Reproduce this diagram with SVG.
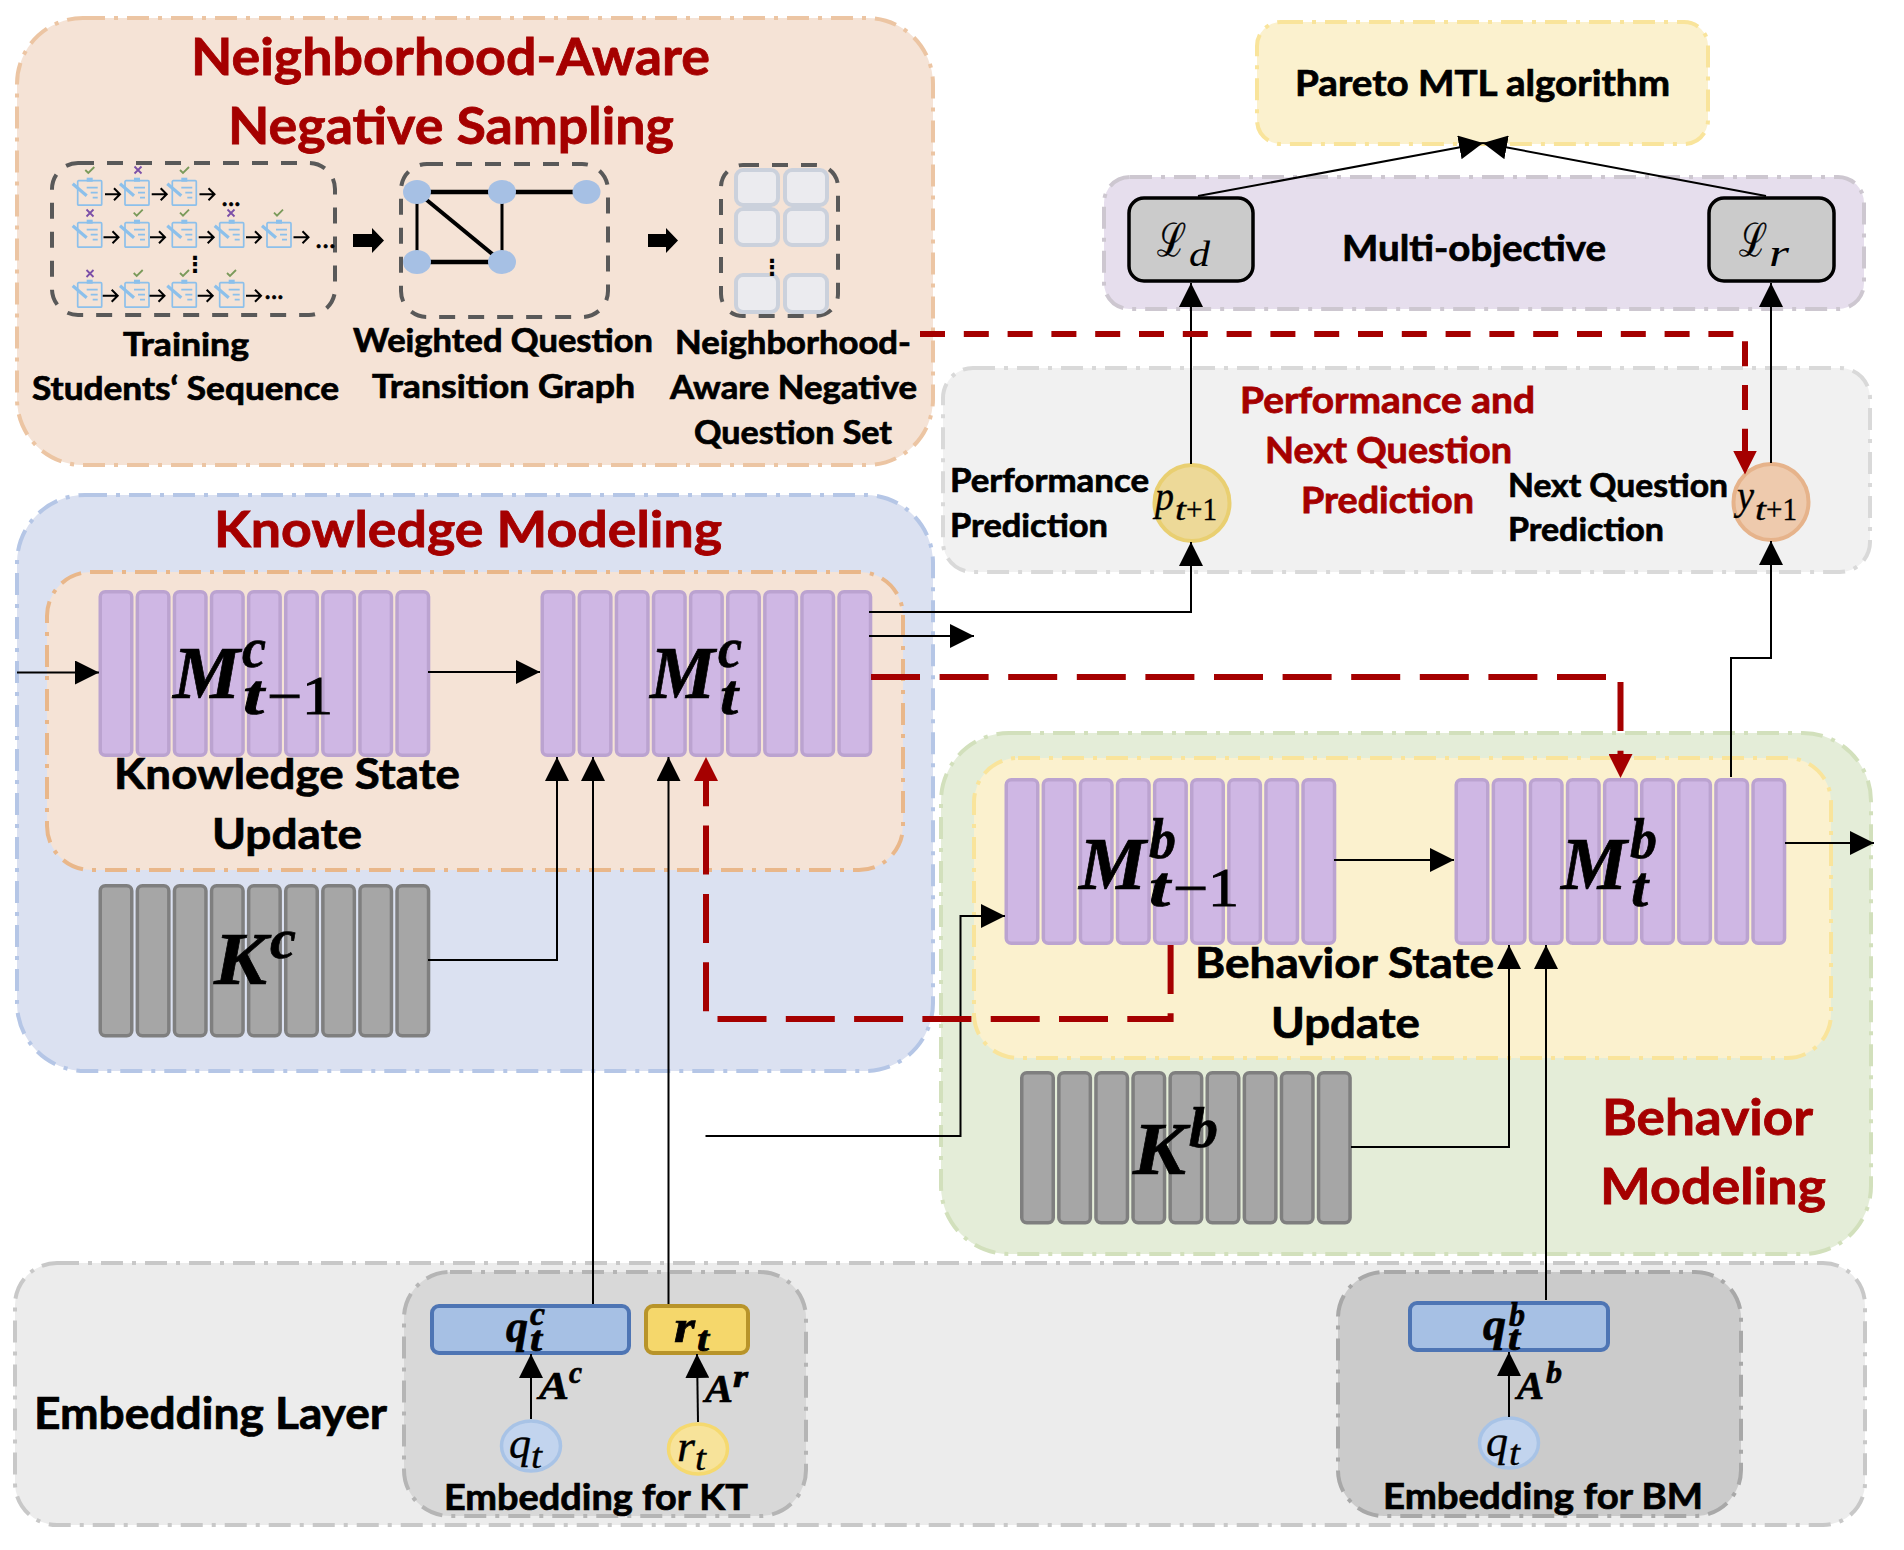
<svg xmlns="http://www.w3.org/2000/svg" xmlns:xlink="http://www.w3.org/1999/xlink" width="1904" height="1550" viewBox="0 0 1904 1550">
<style>
.t{font-family:Lato,"Liberation Sans",sans-serif;font-weight:700;fill:#000;stroke:#000;stroke-width:.7}
.h{font-family:Lato,"Liberation Sans",sans-serif;font-weight:700;fill:#A50000;stroke:#A50000;stroke-width:.8}
.mb{font-family:"Liberation Serif",serif;font-style:italic;font-weight:700;fill:#000;stroke:#000;stroke-width:.7}
.mi{font-family:"Liberation Serif",serif;font-style:italic;fill:#000;stroke:#000;stroke-width:.35}
.up{font-family:"Liberation Serif",serif;font-style:normal}
.upr{font-family:"Liberation Serif",serif;font-style:normal;font-weight:400;stroke-width:1}
.sc{font-family:"DejaVu Serif",serif;font-style:normal}
.thin{stroke-width:0}
.p{stroke-width:4;stroke-dasharray:22 9 4 9}
.bk{fill:none;stroke:#000;stroke-width:2}
.rd{fill:none;stroke:#A50000;stroke-width:6}
.d{fill:none;stroke:#595959;stroke-width:4;stroke-dasharray:16 13}
.pb{fill:#CFB7E4;stroke:#BBA3D0;stroke-width:3.5}
.gb{fill:#A6A6A6;stroke:#7F7F7F;stroke-width:3.5}
.cell{fill:#EBEBEF;stroke:#CBD1DC;stroke-width:4}
.ed{stroke:#000;fill:none}
.cb{fill:none;stroke:#8CC0EB;stroke-width:1.7}
.ok{fill:none;stroke:#7A9A5A;stroke-width:1.8}
.no{fill:none;stroke:#7B4FA8;stroke-width:1.8}
</style>
<defs>
<marker id="a" markerUnits="userSpaceOnUse" markerWidth="24" markerHeight="24" refX="24" refY="12" orient="auto"><path d="M0,0L24,12L0,24z" fill="#000"/></marker>
<marker id="ar" markerUnits="userSpaceOnUse" markerWidth="24" markerHeight="24" refX="2" refY="12" orient="auto"><path d="M0,0L24,12L0,24z" fill="#A50000"/></marker>
<g id="purple"><rect x="1.75" y="1.75" width="31.5" height="163.500" rx="5" class="pb"/><rect x="38.85" y="1.75" width="31.5" height="163.500" rx="5" class="pb"/><rect x="75.95" y="1.75" width="31.5" height="163.500" rx="5" class="pb"/><rect x="113.05" y="1.75" width="31.5" height="163.500" rx="5" class="pb"/><rect x="150.15" y="1.75" width="31.5" height="163.500" rx="5" class="pb"/><rect x="187.25" y="1.75" width="31.5" height="163.500" rx="5" class="pb"/><rect x="224.35" y="1.75" width="31.5" height="163.500" rx="5" class="pb"/><rect x="261.45" y="1.75" width="31.5" height="163.500" rx="5" class="pb"/><rect x="298.55" y="1.75" width="31.5" height="163.500" rx="5" class="pb"/></g>
<g id="gray"><rect x="1.75" y="1.75" width="31.5" height="150" rx="5" class="gb"/><rect x="38.85" y="1.75" width="31.5" height="150" rx="5" class="gb"/><rect x="75.95" y="1.75" width="31.5" height="150" rx="5" class="gb"/><rect x="113.05" y="1.75" width="31.5" height="150" rx="5" class="gb"/><rect x="150.15" y="1.75" width="31.5" height="150" rx="5" class="gb"/><rect x="187.25" y="1.75" width="31.5" height="150" rx="5" class="gb"/><rect x="224.35" y="1.75" width="31.5" height="150" rx="5" class="gb"/><rect x="261.45" y="1.75" width="31.5" height="150" rx="5" class="gb"/><rect x="298.55" y="1.75" width="31.5" height="150" rx="5" class="gb"/></g>
<g id="clip"><rect x="0" y="0" width="24" height="24.5" rx="1" class="cb"/><rect x="9" y="-3" width="6" height="4" fill="#8CC0EB"/><path d="M9,7H20M13,12H20M15,17H20" class="cb" stroke-width="1.2"/><path d="M-5,3L9,15" fill="none" stroke="#8CC0EB" stroke-width="3.2"/></g>
<path id="ok" d="M-4,0L-1,3L5,-3" class="ok"/>
<path id="no" d="M-3.5,-3.5L3.5,3.5M3.5,-3.5L-3.5,3.5" class="no"/>
<path id="sa" d="M0,0H15M9,-6L15,0L9,6" fill="none" stroke="#000" stroke-width="2"/>
</defs>
<rect width="1904" height="1550" fill="#fff"/>

<g id="neg-sampling-panel">
<rect x="17" y="18" width="916" height="447" rx="66" fill="#F5E3D6" stroke="#ECC5A3" class="p"/>
<text class="h" x="191" y="75" font-size="52" textLength="519" lengthAdjust="spacingAndGlyphs">Neighborhood-Aware</text>
<text class="h" x="228" y="144" font-size="52" textLength="446" lengthAdjust="spacingAndGlyphs">Negative Sampling</text>
</g>

<g id="training-sequence">
<rect x="52" y="163" width="283" height="152" rx="26" class="d"/>
<use xlink:href="#clip" x="77.7" y="180.7"/><use xlink:href="#clip" x="125" y="180.7"/><use xlink:href="#clip" x="172.3" y="180.7"/>
<use xlink:href="#clip" x="77.7" y="222.7"/><use xlink:href="#clip" x="125" y="222.7"/><use xlink:href="#clip" x="172.3" y="222.7"/><use xlink:href="#clip" x="219.7" y="222.7"/><use xlink:href="#clip" x="267" y="222.7"/>
<use xlink:href="#clip" x="77.7" y="282.7"/><use xlink:href="#clip" x="125" y="282.7"/><use xlink:href="#clip" x="172.3" y="282.7"/><use xlink:href="#clip" x="219.7" y="282.7"/>
<use xlink:href="#ok" x="89.3" y="170"/><use xlink:href="#no" x="138" y="170"/><use xlink:href="#ok" x="184" y="170"/>
<use xlink:href="#no" x="90" y="213"/><use xlink:href="#ok" x="137.7" y="212.7"/><use xlink:href="#ok" x="184" y="212.7"/><use xlink:href="#no" x="231" y="213"/><use xlink:href="#ok" x="278" y="212.7"/>
<use xlink:href="#no" x="90" y="273.5"/><use xlink:href="#ok" x="137.7" y="273"/><use xlink:href="#ok" x="184" y="273"/><use xlink:href="#ok" x="231" y="273"/>
<use xlink:href="#sa" x="105" y="194.3"/><use xlink:href="#sa" x="151.7" y="194.3"/><use xlink:href="#sa" x="199.5" y="194.3"/>
<use xlink:href="#sa" x="103.5" y="237.3"/><use xlink:href="#sa" x="150" y="237.3"/><use xlink:href="#sa" x="198.7" y="237.3"/><use xlink:href="#sa" x="246" y="237.3"/><use xlink:href="#sa" x="293.5" y="237.3"/>
<use xlink:href="#sa" x="102.7" y="295.7"/><use xlink:href="#sa" x="149.5" y="295.7"/><use xlink:href="#sa" x="197.7" y="295.7"/><use xlink:href="#sa" x="246" y="295.7"/>
<text class="t" x="222" y="206" font-size="22" textLength="18" lengthAdjust="spacing">...</text>
<text class="t" x="316" y="248" font-size="22" textLength="19" lengthAdjust="spacing">...</text>
<text class="t" x="265" y="299" font-size="22" textLength="18" lengthAdjust="spacing">...</text>
<text x="195" y="272" font-size="22" font-weight="700" text-anchor="middle" font-family="DejaVu Sans,sans-serif" fill="#000">⋮</text>
<text class="t" x="123" y="356" font-size="32" textLength="126" lengthAdjust="spacingAndGlyphs">Training</text>
<text class="t" x="32" y="400" font-size="32" textLength="307" lengthAdjust="spacingAndGlyphs">Students‘ Sequence</text>
</g>

<g id="arrow-block-1"><path d="M353,234H372V228L384,240.500L372,253V247H353z" fill="#000"/></g>
<g id="arrow-block-2"><path d="M648,234H666V228L678,240.500L666,253V247H648z" fill="#000"/></g>

<g id="transition-graph">
<rect x="401" y="164" width="207" height="153" rx="26" class="d"/>
<path d="M417,192H586.500M417,262H502" class="ed" stroke-width="4.500"/>
<path d="M417,192V262M502,192V262" class="ed" stroke-width="3"/>
<path d="M417,192L502,262" class="ed" stroke-width="4"/>
<ellipse cx="417" cy="192" rx="14" ry="12" fill="#A6C0E4"/><ellipse cx="502" cy="192" rx="14" ry="12" fill="#A6C0E4"/><ellipse cx="586.500" cy="192" rx="14" ry="12" fill="#A6C0E4"/><ellipse cx="417" cy="262" rx="14" ry="12" fill="#A6C0E4"/><ellipse cx="502" cy="262" rx="14" ry="12" fill="#A6C0E4"/>
<text class="t" x="353" y="352" font-size="32" textLength="300" lengthAdjust="spacingAndGlyphs">Weighted Question</text>
<text class="t" x="372" y="398" font-size="32" textLength="263" lengthAdjust="spacingAndGlyphs">Transition Graph</text>
</g>

<g id="negative-set">
<rect x="721" y="165" width="117" height="151" rx="22" class="d"/>
<rect x="736" y="170" width="42" height="35" rx="7" class="cell"/><rect x="785" y="170" width="42" height="35" rx="7" class="cell"/>
<rect x="736" y="209" width="42" height="36" rx="7" class="cell"/><rect x="785" y="209" width="42" height="36" rx="7" class="cell"/>
<rect x="736" y="275" width="42" height="37" rx="7" class="cell"/><rect x="785" y="275" width="42" height="37" rx="7" class="cell"/>
<text x="772" y="275" font-size="22" font-weight="700" text-anchor="middle" font-family="DejaVu Sans,sans-serif" fill="#000">⋮</text>
<text class="t" x="675" y="354" font-size="32" textLength="236" lengthAdjust="spacingAndGlyphs">Neighborhood-</text>
<text class="t" x="670" y="399" font-size="32" textLength="247" lengthAdjust="spacingAndGlyphs">Aware Negative</text>
<text class="t" x="694" y="444" font-size="32" textLength="198" lengthAdjust="spacingAndGlyphs">Question Set</text>
</g>

<g id="pareto">
<rect x="1257" y="22" width="451" height="122" rx="24" fill="#FBF1CE" stroke="#F9E49B" class="p"/>
<text class="t" x="1295" y="96" font-size="36" textLength="375" lengthAdjust="spacingAndGlyphs">Pareto MTL algorithm</text>
</g>

<g id="multi-objective">
<rect x="1104" y="177" width="760" height="132" rx="26" fill="#E6DEED" stroke="#CDC7D0" class="p"/>
<text class="t" x="1342" y="261" font-size="36" textLength="264" lengthAdjust="spacingAndGlyphs">Multi-objective</text>
</g>
<g id="loss-d">
<rect x="1129" y="198" width="124" height="83" rx="15" fill="#CBCBCB" stroke="#000" stroke-width="3.500"/>
<text class="mi"><tspan class="sc" x="1157" y="256" font-size="46" textLength="29" lengthAdjust="spacingAndGlyphs">ℒ</tspan><tspan class="thin" x="1189" y="266" font-size="36" textLength="21" lengthAdjust="spacingAndGlyphs">d</tspan></text>
</g>
<g id="loss-r">
<rect x="1709" y="198" width="125" height="83" rx="15" fill="#CBCBCB" stroke="#000" stroke-width="3.500"/>
<text class="mi"><tspan class="sc" x="1739" y="256" font-size="46" textLength="28" lengthAdjust="spacingAndGlyphs">ℒ</tspan><tspan class="thin" x="1769" y="266" font-size="38" textLength="20" lengthAdjust="spacingAndGlyphs">r</tspan></text>
</g>

<g id="prediction-panel">
<rect x="943" y="368" width="927" height="204" rx="30" fill="#F1F1F1" stroke="#D9D9D9" class="p"/>
<text class="h" x="1240" y="413" font-size="36" textLength="295" lengthAdjust="spacingAndGlyphs">Performance and</text>
<text class="h" x="1265" y="463" font-size="36" textLength="247" lengthAdjust="spacingAndGlyphs">Next Question</text>
<text class="h" x="1301" y="513" font-size="36" textLength="173" lengthAdjust="spacingAndGlyphs">Prediction</text>
<text class="t" x="950" y="492" font-size="33" textLength="199" lengthAdjust="spacingAndGlyphs">Performance</text>
<text class="t" x="950" y="537" font-size="33" textLength="158" lengthAdjust="spacingAndGlyphs">Prediction</text>
<text class="t" x="1508" y="497" font-size="33" textLength="220" lengthAdjust="spacingAndGlyphs">Next Question</text>
<text class="t" x="1508" y="541" font-size="33" textLength="156" lengthAdjust="spacingAndGlyphs">Prediction</text>
</g>
<g id="p-next">
<ellipse cx="1192" cy="503" rx="37.500" ry="38" fill="#EDD998" stroke="#E9CF71" stroke-width="4"/>
<text class="mi"><tspan x="1155" y="510" font-size="42" textLength="19" lengthAdjust="spacingAndGlyphs">p</tspan><tspan x="1175" y="520" font-size="32" textLength="11" lengthAdjust="spacingAndGlyphs">t</tspan><tspan class="up" x="1186" y="520" font-size="32" textLength="31" lengthAdjust="spacingAndGlyphs">+1</tspan></text>
</g>
<g id="y-next">
<ellipse cx="1771" cy="502" rx="37.500" ry="38" fill="#EECAAD" stroke="#E6B38B" stroke-width="4"/>
<text class="mi"><tspan x="1737" y="509" font-size="42" textLength="17" lengthAdjust="spacingAndGlyphs">y</tspan><tspan x="1755" y="520" font-size="32" textLength="11" lengthAdjust="spacingAndGlyphs">t</tspan><tspan class="up" x="1766" y="520" font-size="32" textLength="31" lengthAdjust="spacingAndGlyphs">+1</tspan></text>
</g>

<g id="knowledge-panel">
<rect x="17" y="495" width="916" height="576" rx="68" fill="#DBE1F1" stroke="#B5C6E6" class="p"/>
<text class="h" x="214" y="547" font-size="50" textLength="508" lengthAdjust="spacingAndGlyphs">Knowledge Modeling</text>
</g>
<g id="knowledge-update">
<rect x="47" y="572" width="856" height="298" rx="44" fill="#F5E3D6" stroke="#E9B78A" class="p"/>
<text class="t" x="114" y="789" font-size="42" textLength="346" lengthAdjust="spacingAndGlyphs">Knowledge State</text>
<text class="t" x="212" y="849" font-size="42" textLength="150" lengthAdjust="spacingAndGlyphs">Update</text>
</g>
<g id="m-c-prev">
<use xlink:href="#purple" x="98.500" y="590"/>
<text class="mb"><tspan x="173" y="698" font-size="75" textLength="67" lengthAdjust="spacingAndGlyphs">M</tspan><tspan x="242" y="667" font-size="58" textLength="24" lengthAdjust="spacingAndGlyphs">c</tspan><tspan x="243" y="714" font-size="56" textLength="21" lengthAdjust="spacingAndGlyphs">t</tspan><tspan class="upr" x="267" y="714" font-size="54" textLength="66" lengthAdjust="spacingAndGlyphs">−1</tspan></text>
</g>
<g id="m-c">
<use xlink:href="#purple" x="540.500" y="590"/>
<text class="mb"><tspan x="650" y="698" font-size="75" textLength="65" lengthAdjust="spacingAndGlyphs">M</tspan><tspan x="718" y="667" font-size="58" textLength="24" lengthAdjust="spacingAndGlyphs">c</tspan><tspan x="720" y="714" font-size="56" textLength="18" lengthAdjust="spacingAndGlyphs">t</tspan></text>
</g>
<g id="k-c">
<use xlink:href="#gray" x="98.500" y="884"/>
<text class="mb"><tspan x="214" y="984" font-size="73" textLength="53" lengthAdjust="spacingAndGlyphs">K</tspan><tspan x="270" y="958" font-size="58" textLength="26" lengthAdjust="spacingAndGlyphs">c</tspan></text>
</g>

<g id="behavior-panel">
<rect x="941" y="733" width="930" height="521" rx="68" fill="#E4EDD8" stroke="#D2E0BC" class="p"/>
<text class="h" x="1602" y="1135" font-size="50" textLength="211" lengthAdjust="spacingAndGlyphs">Behavior</text>
<text class="h" x="1600" y="1204" font-size="50" textLength="226" lengthAdjust="spacingAndGlyphs">Modeling</text>
</g>
<g id="behavior-update">
<rect x="974" y="758" width="857" height="300" rx="44" fill="#FBF1CE" stroke="#F9E49B" class="p"/>
<text class="t" x="1195" y="978" font-size="42" textLength="299" lengthAdjust="spacingAndGlyphs">Behavior State</text>
<text class="t" x="1271" y="1038" font-size="42" textLength="149" lengthAdjust="spacingAndGlyphs">Update</text>
</g>
<g id="m-b-prev">
<use xlink:href="#purple" x="1004.500" y="778"/>
<text class="mb"><tspan x="1079" y="889" font-size="75" textLength="67" lengthAdjust="spacingAndGlyphs">M</tspan><tspan x="1149" y="858" font-size="58" textLength="27" lengthAdjust="spacingAndGlyphs">b</tspan><tspan x="1149" y="906" font-size="56" textLength="21" lengthAdjust="spacingAndGlyphs">t</tspan><tspan class="upr" x="1173" y="906" font-size="54" textLength="66" lengthAdjust="spacingAndGlyphs">−1</tspan></text>
</g>
<g id="m-b">
<use xlink:href="#purple" x="1454.500" y="778"/>
<text class="mb"><tspan x="1561" y="889" font-size="75" textLength="66" lengthAdjust="spacingAndGlyphs">M</tspan><tspan x="1630" y="858" font-size="58" textLength="27" lengthAdjust="spacingAndGlyphs">b</tspan><tspan x="1631" y="906" font-size="56" textLength="17" lengthAdjust="spacingAndGlyphs">t</tspan></text>
</g>
<g id="k-b">
<use xlink:href="#gray" x="1020" y="1071"/>
<text class="mb"><tspan x="1133" y="1174" font-size="73" textLength="53" lengthAdjust="spacingAndGlyphs">K</tspan><tspan x="1189" y="1147" font-size="58" textLength="29" lengthAdjust="spacingAndGlyphs">b</tspan></text>
</g>

<g id="embedding-layer">
<rect x="15" y="1263" width="1850" height="262" rx="42" fill="#ECECEC" stroke="#C8C8C8" class="p"/>
<text class="t" x="34" y="1429" font-size="43" textLength="353" lengthAdjust="spacingAndGlyphs">Embedding Layer</text>
</g>
<g id="embedding-kt">
<rect x="404" y="1272" width="402" height="244" rx="46" fill="#D8D8D8" stroke="#B5B5B5" class="p"/>
<text class="t" x="444" y="1510" font-size="36" textLength="304" lengthAdjust="spacingAndGlyphs">Embedding for KT</text>
</g>
<g id="q-c">
<rect x="432" y="1306" width="197" height="47" rx="7" fill="#A6C0E4" stroke="#4E75B4" stroke-width="4"/>
<text class="mb"><tspan x="506" y="1342" font-size="46" textLength="22" lengthAdjust="spacingAndGlyphs">q</tspan><tspan x="530" y="1325" font-size="34" textLength="15" lengthAdjust="spacingAndGlyphs">c</tspan><tspan x="530" y="1351" font-size="36" textLength="12" lengthAdjust="spacingAndGlyphs">t</tspan></text>
</g>
<g id="r-box">
<rect x="646" y="1306" width="102" height="47" rx="7" fill="#F5D76B" stroke="#B8942A" stroke-width="4"/>
<text class="mb"><tspan x="674" y="1342" font-size="46" textLength="21" lengthAdjust="spacingAndGlyphs">r</tspan><tspan x="697" y="1351" font-size="36" textLength="12" lengthAdjust="spacingAndGlyphs">t</tspan></text>
</g>
<g id="q-in-kt">
<ellipse cx="531" cy="1446" rx="29.500" ry="25" fill="#C2D4EE" stroke="#A8C3E6" stroke-width="3.500"/>
<text class="mi"><tspan x="509" y="1458" font-size="44" textLength="22" lengthAdjust="spacingAndGlyphs">q</tspan><tspan x="531" y="1468" font-size="36" textLength="11" lengthAdjust="spacingAndGlyphs">t</tspan></text>
</g>
<g id="r-in-kt">
<ellipse cx="698" cy="1449" rx="29.500" ry="25" fill="#F7E39A" stroke="#F5D96F" stroke-width="3.500"/>
<text class="mi"><tspan x="677" y="1461" font-size="44" textLength="18" lengthAdjust="spacingAndGlyphs">r</tspan><tspan x="695" y="1470" font-size="36" textLength="11" lengthAdjust="spacingAndGlyphs">t</tspan></text>
</g>
<g id="label-a-c">
<text class="mb"><tspan x="539" y="1399" font-size="40" textLength="30" lengthAdjust="spacingAndGlyphs">A</tspan><tspan x="569" y="1383" font-size="32" textLength="13" lengthAdjust="spacingAndGlyphs">c</tspan></text>
</g>
<g id="label-a-r">
<text class="mb"><tspan x="705" y="1402" font-size="40" textLength="28" lengthAdjust="spacingAndGlyphs">A</tspan><tspan x="733" y="1387" font-size="32" textLength="15" lengthAdjust="spacingAndGlyphs">r</tspan></text>
</g>

<g id="embedding-bm">
<rect x="1338" y="1272" width="403" height="244" rx="46" fill="#CBCBCB" stroke="#A8A8A8" class="p"/>
<text class="t" x="1383" y="1509" font-size="36" textLength="320" lengthAdjust="spacingAndGlyphs">Embedding for BM</text>
</g>
<g id="q-b">
<rect x="1410" y="1303" width="198" height="47" rx="7" fill="#A6C0E4" stroke="#4E75B4" stroke-width="4"/>
<text class="mb"><tspan x="1483" y="1340" font-size="46" textLength="23" lengthAdjust="spacingAndGlyphs">q</tspan><tspan x="1509" y="1326" font-size="34" textLength="16" lengthAdjust="spacingAndGlyphs">b</tspan><tspan x="1508" y="1350" font-size="36" textLength="12" lengthAdjust="spacingAndGlyphs">t</tspan></text>
</g>
<g id="q-in-bm">
<ellipse cx="1509" cy="1443" rx="29.500" ry="25" fill="#C2D4EE" stroke="#A8C3E6" stroke-width="3.500"/>
<text class="mi"><tspan x="1486" y="1456" font-size="44" textLength="22" lengthAdjust="spacingAndGlyphs">q</tspan><tspan x="1509" y="1465" font-size="36" textLength="11" lengthAdjust="spacingAndGlyphs">t</tspan></text>
</g>
<g id="label-a-b">
<text class="mb"><tspan x="1517" y="1399" font-size="40" textLength="27" lengthAdjust="spacingAndGlyphs">A</tspan><tspan x="1546" y="1383" font-size="32" textLength="16" lengthAdjust="spacingAndGlyphs">b</tspan></text>
</g>

<g id="connectors">
<path class="bk" d="M1198,196L1483,143" marker-end="url(#a)"/>
<path class="bk" d="M1766,196L1483,143" marker-end="url(#a)"/>
<path class="bk" d="M1191,464V283" marker-end="url(#a)"/>
<path class="bk" d="M1771,463V283" marker-end="url(#a)"/>
<path class="bk" d="M869,612H1191V542" marker-end="url(#a)"/>
<path class="bk" d="M869,636H974" marker-end="url(#a)"/>
<path class="bk" d="M1731,777V658H1771V541" marker-end="url(#a)"/>
<path class="bk" d="M17,672.500H99" marker-end="url(#a)"/>
<path class="bk" d="M428,672H540" marker-end="url(#a)"/>
<path class="bk" d="M428,960H557V757" marker-end="url(#a)"/>
<path class="bk" d="M593,1304V757" marker-end="url(#a)"/>
<path class="bk" d="M668.500,1304V757" marker-end="url(#a)"/>
<path class="bk" d="M1334,860H1454" marker-end="url(#a)"/>
<path class="bk" d="M1785,843H1874" marker-end="url(#a)"/>
<path class="bk" d="M1351,1147H1509V945" marker-end="url(#a)"/>
<path class="bk" d="M1546,1300V945" marker-end="url(#a)"/>
<path class="bk" d="M705.500,1136H960.500V916H1005" marker-end="url(#a)"/>
<path class="bk" d="M531,1419V1354" marker-end="url(#a)"/>
<path class="bk" d="M698,1422L697,1354" marker-end="url(#a)"/>
<path class="bk" d="M1509,1417V1352" marker-end="url(#a)"/>
<path class="rd" d="M920,334H1745V452.500" stroke-dasharray="25 18.800" marker-end="url(#ar)"/>
<path class="rd" d="M871,677H1620.500V756" stroke-dasharray="49 19.600" marker-end="url(#ar)"/>
<path class="rd" d="M1170.600,945V1019H706V779" stroke-dasharray="49 19.300" marker-end="url(#ar)"/>
</g>
</svg>
